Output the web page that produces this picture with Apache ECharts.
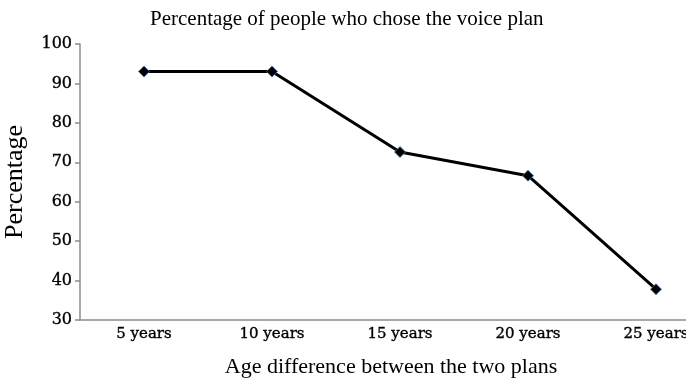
<!DOCTYPE html>
<html>
<head>
<meta charset="utf-8">
<script src="https://cdn.jsdelivr.net/npm/echarts@6/dist/echarts.min.js"></script>
<style>
  html, body { margin: 0; padding: 0; background: #fff; }
  #chart { width: 686px; height: 378px; }
</style>
</head>
<body>
<div id="chart"></div>
<script>
// Share of respondents choosing the voice plan, by age gap between plans
const categories = ['5 years', '10 years', '15 years', '20 years', '25 years'];
const percentages = [93.0, 93.0, 72.6, 66.6, 37.8];
const yTicks = { min: 30, max: 100, interval: 10 };

const serif = '"Liberation Serif", "Times New Roman", serif';
const tickFont = '"DejaVu Serif", serif';
const axisGray = '#8c8c8c';

const chart = echarts.init(document.getElementById('chart'), null, { renderer: 'canvas' });
chart.setOption({
  animation: false,
  backgroundColor: '#ffffff',
  title: {
    text: 'Percentage of people who chose the voice plan',
    left: 145,
    top: 4,
    textStyle: { fontFamily: serif, fontSize: 21, fontWeight: 'normal', color: '#000' }
  },
  // the last category band runs past the right edge of the canvas
  grid: { left: 80, right: -34, top: 44, bottom: 58, containLabel: false, outerBoundsMode: 'none' },
  xAxis: {
    type: 'category',
    data: categories,
    boundaryGap: true,
    name: 'Age difference between the two plans',
    nameLocation: 'middle',
    nameGap: 36,
    nameTextStyle: { fontFamily: serif, fontSize: 22, color: '#000', padding: [0, 18, 0, 0] },
    axisLine: { lineStyle: { color: axisGray, width: 1.5 } },
    axisTick: { show: false },
    axisLabel: {
      fontFamily: tickFont, fontSize: 15, color: '#000', margin: 7,
      textBorderColor: '#000', textBorderWidth: 0.35
    },
    splitLine: { show: false }
  },
  yAxis: {
    type: 'value',
    min: yTicks.min,
    max: yTicks.max,
    interval: yTicks.interval,
    name: 'Percentage',
    nameLocation: 'middle',
    nameGap: 52,
    nameTextStyle: { fontFamily: serif, fontSize: 26, color: '#000' },
    axisLine: { show: true, lineStyle: { color: axisGray, width: 1.5 } },
    axisTick: { show: true, inside: false, length: 5, lineStyle: { color: axisGray, width: 1.5 } },
    axisLabel: {
      fontFamily: tickFont, fontSize: 16, color: '#000', margin: 8,
      textBorderColor: '#000', textBorderWidth: 0.35
    },
    splitLine: { show: false }
  },
  series: [{
    type: 'line',
    data: percentages,
    symbol: 'diamond',
    symbolSize: 11,
    lineStyle: { color: '#000', width: 3 },
    itemStyle: { color: '#000', borderColor: '#4a72b0', borderWidth: 0.8 },
    z: 3
  }]
});
</script>
</body>
</html>
